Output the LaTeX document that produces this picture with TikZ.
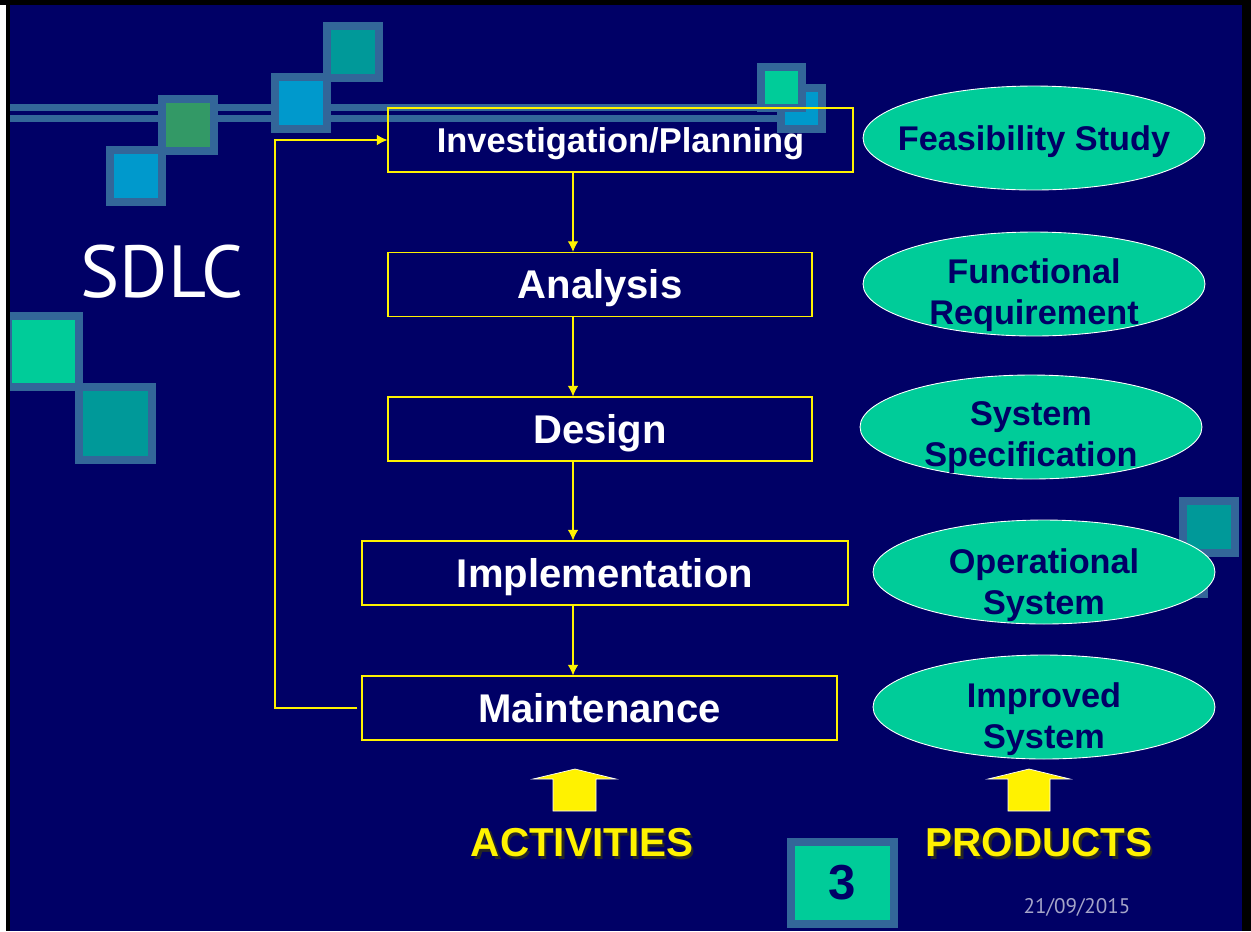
\documentclass[tikz,border=0pt]{standalone}
\usepackage{fontspec}
\setmainfont{Liberation Sans}
\newfontfamily\slidefont{PT Sans}
\usepackage{tikz}
\usetikzlibrary{shapes.geometric,calc,arrows.meta}
\definecolor{slidebg}{RGB}{0,0,102}
\definecolor{framecol}{RGB}{51,102,153}
\definecolor{sqgreen}{RGB}{51,153,102}
\definecolor{sqblue}{RGB}{0,153,204}
\definecolor{sqteal}{RGB}{0,153,153}
\definecolor{sqaqua}{RGB}{0,204,153}
\definecolor{datecol}{RGB}{165,165,200}
\tikzset{>={Latex[length=6pt,width=6pt]},
    stage/.style={draw=yellow, line width=0.7pt, minimum height=1.28cm, text=white,
        text height=16.3pt, text depth=0pt, font=\bfseries\fontsize{22.8}{26}\selectfont},
    product/.style={ellipse, draw=white, line width=0.5pt, fill=sqaqua,
        minimum width=6.84cm, minimum height=2.08cm, inner sep=0pt},
    prodtext/.style={text=slidebg, align=center, yshift=-2.3pt,
        font=\bfseries\fontsize{19.5}{23.3}\selectfont},
    flow/.style={draw=yellow, line width=0.6pt, ->},
    banner/.style={text=yellow, font=\bfseries\fontsize{23}{26}\selectfont},
    bannershadow/.style={text=black!85, font=\bfseries\fontsize{23}{26}\selectfont},
    bigarrow/.style={fill=yellow, draw=white, line width=0.4pt}}
\newcommand{\decosq}[4]{%
    \fill[framecol] (#1,#2) rectangle ++(#3,#3);
    \fill[#4] (#1+8,#2+8) rectangle ++(#3-16,#3-16);}

\begin{document}
\begin{tikzpicture}[x=0.02cm, y=-0.02cm]
    \useasboundingbox (0,0) rectangle (1251,931);
    \fill[slidebg] (10,5) rectangle (1242,931);
    % bars and squares
    \fill[framecol] (10,104) rectangle (800,111);
    \fill[framecol] (10,115) rectangle (800,122);
    \decosq{106}{146}{60}{sqblue}
    \decosq{158}{95}{60}{sqgreen}
    \decosq{271}{73}{60}{sqblue}
    \decosq{323}{22}{60}{sqteal}
    \decosq{777}{84}{49}{sqblue}
    \decosq{757}{63}{49}{sqaqua}
    \decosq{4}{312}{79}{sqaqua}
    \decosq{75}{383}{81}{sqteal}
    \decosq{1150}{540}{58}{sqteal}
    \decosq{1179}{497}{60}{sqteal}
    \node[text=white, font=\slidefont\fontsize{42}{48}\selectfont] (title) at (162,272) {SDLC};
    % activities
    \node[stage, minimum width=9.3cm, text height=14pt, font=\bfseries\fontsize{19.6}{23}\selectfont] (inv) at (620.5,140) {Investigation/Planning};
    \node[stage, minimum width=8.48cm] (ana) at (600,284.5) {Analysis};
    \node[stage, minimum width=8.48cm] (des) at (600,429) {Design};
    \node[stage, minimum width=9.72cm] (imp) at (605,573) {Implementation};
    \node[stage, minimum width=9.5cm] (mnt) at (599.5,708) {Maintenance};
    \coordinate (spine) at (573,0);
    \coordinate (loop) at (275,0);
    \draw[flow] (inv.south -| spine) -- (ana.north -| spine);
    \draw[flow] (ana.south -| spine) -- (des.north -| spine);
    \draw[flow] (des.south -| spine) -- (imp.north -| spine);
    \draw[flow] (imp.south -| spine) -- (mnt.north -| spine);
    \draw[flow] ([xshift=-0.08cm]mnt.west) -| (loop |- inv.west) -- (inv.west);
    % products
    \node[product] (feas) at (1034,138) {};
    \node[prodtext] (feast) at (feas) {Feasibility Study};
    \node[product] (func) at (1034,284) {};
    \node[prodtext] (funct) at (1034,291) {Functional\\Requirement};
    \node[product] (spec) at (1031,427) {};
    \node[prodtext] (spect) at (1031,434) {System\\Specification};
    \node[product] (oper) at (1044,572) {};
    \node[prodtext] (opert) at (1044,581) {Operational\\System};
    \node[product] (impr) at (1044,707) {};
    \node[prodtext] (imprt) at (1044,715) {Improved\\System};
    % bottom row
    \filldraw[bigarrow] (553,811) -- (553,779) -- (533,779) -- (575,769) -- (616,779) -- (596,779) -- (596,811) -- cycle;
    \filldraw[bigarrow] (1008,811) -- (1008,779) -- (988,779) -- (1029,769) -- (1070,779) -- (1050,779) -- (1050,811) -- cycle;
    \node[bannershadow] (actsh) at (584.5,845.5) {ACTIVITIES};
    \node[banner] (act) at (582,843) {ACTIVITIES};
    \node[bannershadow] (prodsh) at (1041.5,845.5) {PRODUCTS};
    \node[banner] (prod) at (1039,843) {PRODUCTS};
    \node[draw=framecol, line width=4.55pt, fill=sqaqua, minimum width=2.06cm, minimum height=1.64cm,
        text=slidebg, font=\bfseries\fontsize{28}{30}\selectfont] (page) at (842.5,883) {3};
    \node[text=datecol, font=\slidefont\fontsize{12}{14}\selectfont] (date) at (1077,907) {21/09/2015};
    % frame edges
    \fill[white] (0,0) rectangle (6,931);
    \fill[black] (6,0) rectangle (10,931);
    \fill[black] (0,0) rectangle (1251,5);
    \fill[black] (1242,0) rectangle (1251,931);
\end{tikzpicture}
\end{document}
